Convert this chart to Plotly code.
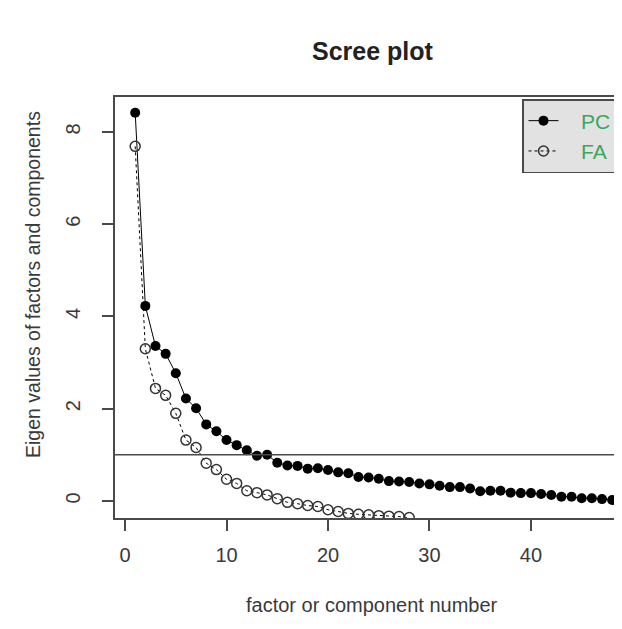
import plotly.graph_objects as go

# ---- data ----
components = list(range(1, 49))
pc_values = [8.42, 4.23, 3.36, 3.19, 2.77, 2.22, 2.01, 1.66, 1.51, 1.32,
             1.21, 1.10, 0.98, 1.00, 0.83, 0.77, 0.76, 0.70, 0.71, 0.67,
             0.62, 0.60, 0.52, 0.51, 0.48, 0.43, 0.42, 0.41, 0.38, 0.36,
             0.33, 0.30, 0.30, 0.27, 0.21, 0.22, 0.22, 0.18, 0.17, 0.17,
             0.15, 0.13, 0.09, 0.09, 0.06, 0.06, 0.04, 0.02]
factors = list(range(1, 29))
fa_values = [7.69, 3.30, 2.44, 2.29, 1.90, 1.32, 1.16, 0.82, 0.68, 0.47,
             0.38, 0.22, 0.18, 0.13, 0.05, -0.03, -0.06, -0.10, -0.12, -0.19,
             -0.23, -0.27, -0.29, -0.30, -0.32, -0.33, -0.34, -0.36]
x_ticks = [0, 10, 20, 30, 40]
y_ticks = [0, 2, 4, 6, 8]
kaiser_line = 1

# ---- layout geometry (window pixels; page body has an 8px margin) ----
OFF = 8
WIN_W, WIN_H = 622, 629
W, H = WIN_W - OFF, WIN_H - OFF
PL, PT, PR, PB = 115, 97, 622, 518          # plot box in window pixels
L, T = PL - OFF, PT - OFF
R, B = WIN_W - PR, WIN_H - PB
PW, PH = PR - PL, PB - PT


def px_x(p):
    return (p - PL) / PW


def px_y(q):
    return (PB - q) / PH


FONT = "Liberation Sans, Arial, sans-serif"
INK = "#2a2a2a"
LINE = "#4a4a4a"
LEAD = "\u00a0" * 3

fig = go.Figure()
fig.add_trace(go.Scatter(
    x=components, y=pc_values, mode="lines+markers",
    name=LEAD + "PC\u00a0",
    line=dict(color="black", width=1),
    marker=dict(symbol="circle", size=10, color="black"),
))
fig.add_trace(go.Scatter(
    x=factors, y=fa_values, mode="lines+markers",
    name=LEAD + "FA",
    line=dict(color="black", width=1, dash="dot"),
    marker=dict(symbol="circle-open", size=10, color="#333333",
                line=dict(width=1.5)),
))

fig.add_shape(type="line", xref="paper", x0=0, x1=1, yref="y",
              y0=kaiser_line, y1=kaiser_line,
              line=dict(color=LINE, width=1.5))

fig.update_layout(
    width=W, height=H,
    margin=dict(l=L, r=R, t=T, b=B, autoexpand=False),
    paper_bgcolor="white", plot_bgcolor="white",
    font=dict(family=FONT, color=INK, size=20),
    showlegend=True,
    legend=dict(
        x=px_x(522), y=px_y(99), xanchor="left", yanchor="top",
        bgcolor="#e2e2e2", bordercolor=LINE, borderwidth=1.5,
        font=dict(family=FONT, size=21, color="#3aa85a"),
        tracegroupgap=0,
    ),
    xaxis=dict(
        range=[-0.99, 48.97], tickmode="array", tickvals=x_ticks,
        ticks="outside", ticklen=11, tickwidth=1.5, tickcolor=LINE,
        showline=True, linecolor=LINE, linewidth=1.5, mirror=True,
        showgrid=False, zeroline=False,
        tickfont=dict(family=FONT, size=20, color="#3a3a3a"),
        ticklabelstandoff=7,
    ),
    yaxis=dict(
        range=[-0.37, 8.76], tickmode="array", tickvals=y_ticks,
        tickangle=-90,
        ticks="outside", ticklen=11, tickwidth=1.5, tickcolor=LINE,
        showline=True, linecolor=LINE, linewidth=1.5, mirror=False,
        showgrid=False, zeroline=False,
        tickfont=dict(family=FONT, size=20, color="#3a3a3a"),
        ticklabelstandoff=14,
    ),
    annotations=[
        dict(text="<b>Scree plot</b>", xref="paper", yref="paper",
             x=px_x(373), y=px_y(51), xanchor="center", yanchor="middle",
             showarrow=False, font=dict(family=FONT, size=25, color="#222222")),
        dict(text="factor or component number", xref="paper", yref="paper",
             x=px_x(372), y=px_y(605), xanchor="center", yanchor="middle",
             showarrow=False, font=dict(family=FONT, size=20, color="#3a3a3a")),
        dict(text="Eigen values of factors and components", xref="paper",
             yref="paper", x=px_x(33), y=px_y(285), xanchor="center",
             yanchor="middle", textangle=-90, showarrow=False,
             font=dict(family=FONT, size=19.5, color="#3a3a3a")),
    ],
)

fig.write_html("out.html")
